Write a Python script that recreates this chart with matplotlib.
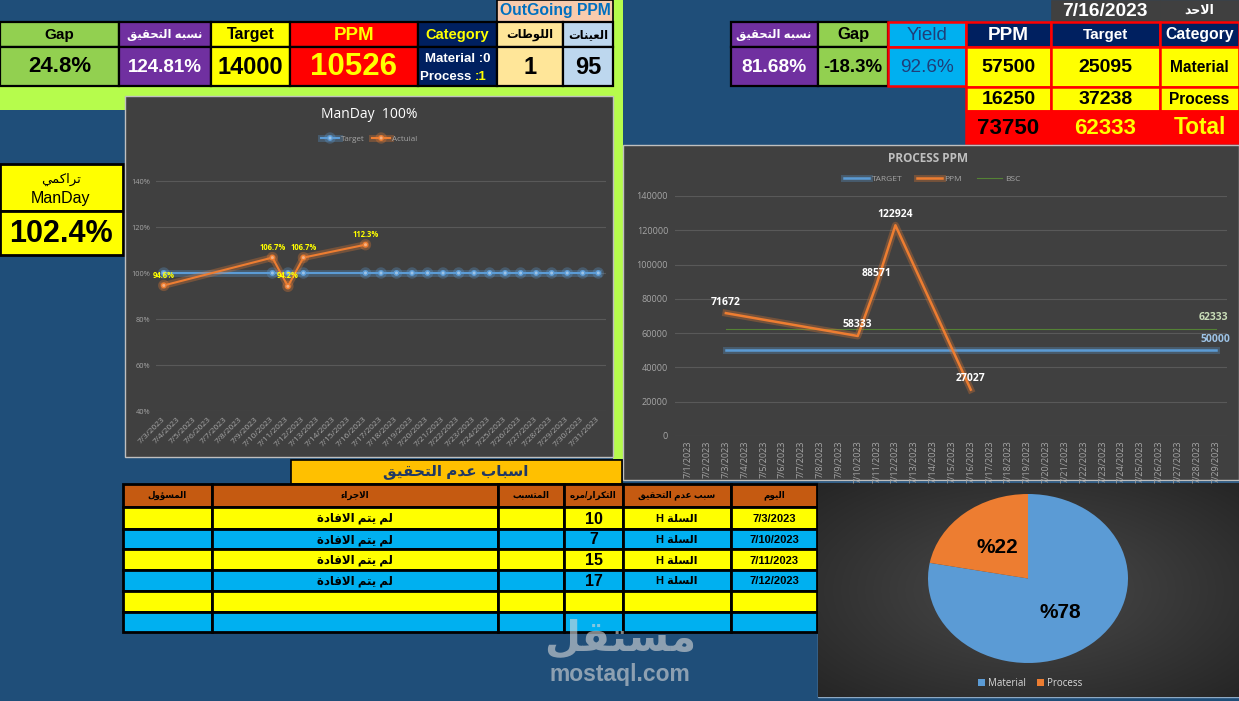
import numpy as np
import matplotlib
matplotlib.use('Agg')
import matplotlib.pyplot as plt
import matplotlib.patheffects as pe
from matplotlib.patches import Rectangle
from matplotlib.colors import LinearSegmentedColormap

W, H = 1239, 701

# ---------------- data ----------------
# ManDay chart (7/3 .. 7/31)
manday_dates = ['7/3/2023', '7/4/2023', '7/5/2023', '7/6/2023', '7/7/2023', '7/8/2023',
                '7/9/2023', '7/10/2023', '7/11/2023', '7/12/2023', '7/13/2023', '7/14/2023',
                '7/15/2023', '7/16/2023', '7/17/2023', '7/18/2023', '7/19/2023', '7/20/2023',
                '7/21/2023', '7/22/2023', '7/23/2023', '7/24/2023', '7/25/2023', '7/26/2023',
                '7/27/2023', '7/28/2023', '7/29/2023', '7/30/2023', '7/31/2023']
manday_target = [1.0, None, None, None, None, None, None, 1.0, 1.0, 1.0, None, None, None,
                 1.0, 1.0, 1.0, 1.0, 1.0, 1.0, 1.0, 1.0, 1.0, 1.0, 1.0, 1.0, 1.0, 1.0, 1.0, 1.0]
manday_actual = [0.946, None, None, None, None, None, None, 1.067, 0.942, 1.067, None, None, None,
                 1.123, None, None, None, None, None, None, None, None, None, None, None, None,
                 None, None, None]

# Process PPM chart (7/1 .. 7/29)
ppm_dates = ['7/1/2023', '7/2/2023', '7/3/2023', '7/4/2023', '7/5/2023', '7/6/2023', '7/7/2023',
             '7/8/2023', '7/9/2023', '7/10/2023', '7/11/2023', '7/12/2023', '7/13/2023',
             '7/14/2023', '7/15/2023', '7/16/2023', '7/17/2023', '7/18/2023', '7/19/2023',
             '7/20/2023', '7/21/2023', '7/22/2023', '7/23/2023', '7/24/2023', '7/25/2023',
             '7/26/2023', '7/27/2023', '7/28/2023', '7/29/2023']
ppm_values = [None, None, 71672, None, None, None, None, None, None, 58333, 88571, 122924,
              None, None, None, 27027, None, None, None, None, None, None, None, None, None,
              None, None, None, None]
ppm_target = [None, None] + [50000] * 27
ppm_bsc = [None, None] + [62333] * 27

# top left table
out_gap = '24.8%'
out_achieve = '124.81%'
out_target = 14000
out_ppm = 10526
out_lots = 1
out_samples = 95

# top right table
day_date = '7/16/2023'
day_name = 'الاحد'
cat_names = ['Material', 'Process', 'Total']
cat_ppm = [57500, 16250, 73750]
cat_target = [25095, 37238, 62333]
day_yield = '92.6%'
day_gap = '-18.3%'
day_achieve = '81.68%'
manday_cum = '102.4%'

# reasons table
reason_days = ['7/3/2023', '7/10/2023', '7/11/2023', '7/12/2023']
reason_cause = ['السلة', 'السلة', 'السلة', 'السلة']
reason_count = [10, 7, 15, 17]
reason_action = ['لم يتم الافادة'] * 4

pie_labels = ['Material', 'Process']
pie_values = cat_ppm[:2]

# ---------------- arabic shaping (no bidi lib available) ----------------
AR = {'ء': (0xFE80, 1), 'آ': (0xFE81, 2), 'أ': (0xFE83, 2), 'ؤ': (0xFE85, 2), 'إ': (0xFE87, 2),
      'ئ': (0xFE89, 4), 'ا': (0xFE8D, 2), 'ب': (0xFE8F, 4), 'ة': (0xFE93, 2), 'ت': (0xFE95, 4),
      'ث': (0xFE99, 4), 'ج': (0xFE9D, 4), 'ح': (0xFEA1, 4), 'خ': (0xFEA5, 4), 'د': (0xFEA9, 2),
      'ذ': (0xFEAB, 2), 'ر': (0xFEAD, 2), 'ز': (0xFEAF, 2), 'س': (0xFEB1, 4), 'ش': (0xFEB5, 4),
      'ص': (0xFEB9, 4), 'ض': (0xFEBD, 4), 'ط': (0xFEC1, 4), 'ظ': (0xFEC5, 4), 'ع': (0xFEC9, 4),
      'غ': (0xFECD, 4), 'ف': (0xFED1, 4), 'ق': (0xFED5, 4), 'ك': (0xFED9, 4), 'ل': (0xFEDD, 4),
      'م': (0xFEE1, 4), 'ن': (0xFEE5, 4), 'ه': (0xFEE9, 4), 'و': (0xFEED, 2), 'ى': (0xFEEF, 2),
      'ي': (0xFEF1, 4), 'لآ': (0xFEF5, 2), 'لأ': (0xFEF7, 2), 'لإ': (0xFEF9, 2), 'لا': (0xFEFB, 2)}


def ar(s):
    toks = []
    i = 0
    while i < len(s):
        if s[i] == 'ل' and s[i:i + 2] in AR:
            toks.append(s[i:i + 2])
            i += 2
        else:
            toks.append(s[i])
            i += 1
    out = []
    for k, t in enumerate(toks):
        if t not in AR:
            out.append(t)
            continue
        base, n = AR[t]
        prev = toks[k - 1] if k > 0 else None
        nxt = toks[k + 1] if k + 1 < len(toks) else None
        jp = prev in AR and AR[prev][1] == 4
        jn = n == 4 and nxt in AR and AR[nxt][1] > 1
        f = 0
        if n > 1:
            if jp and jn:
                f = 3
            elif jp:
                f = 1
            elif jn:
                f = 2
        out.append(chr(base + f))
    return ''.join(out)[::-1]


FONT = ['Liberation Sans', 'DejaVu Sans']
CFONT = ['Open Sans', 'DejaVu Sans']

fig = plt.figure(figsize=(W / 100, H / 100), dpi=100, facecolor='#1F4E79')
bg = fig.add_axes([0, 0, 1, 1], zorder=-10)
bg.set_xlim(0, W)
bg.set_ylim(H, 0)
bg.axis('off')


def box(x0, y0, x1, y1, fc, ec='black', lw=1.6, z=2):
    bg.add_patch(Rectangle((x0, y0), x1 - x0, y1 - y0, fc=fc, ec=ec, lw=lw, zorder=z))


def put(x, y, s, size, color='black', weight='bold', ha='center', fam=FONT, z=5, **kw):
    bg.text(x, y, s, fontsize=size, color=color, fontweight=weight, ha=ha, va='center',
            family=fam, zorder=z, **kw)


def pax(x0, y0, x1, y1, **kw):
    return fig.add_axes([x0 / W, 1 - y1 / H, (x1 - x0) / W, (y1 - y0) / H], **kw)


LIME = '#B6FC4C'
box(0, 86, 623, 97, LIME, ec='none', lw=0, z=1)
box(0, 86, 125, 110, LIME, ec='none', lw=0, z=1)
box(613, 0, 623, 459, LIME, ec='none', lw=0, z=1)

# ---------------- top left table ----------------
box(497, 0, 613, 22, '#F8CBAD', lw=1.2)
put(555, 11, 'OutGoing PPM', 11.3, color='#0070C0')
tl_cols = [0, 119, 211, 290, 418, 497, 563, 613]
tl_fc = ['#92D050', '#7030A0', '#FFFF00', '#FF0000', '#002060', '#FFE699', '#BDD7EE']
tl_head = ['Gap', ar('نسبه التحقيق'), 'Target', 'PPM', 'Category', ar('اللوطات'), ar('العينات')]
tl_hc = ['black', 'white', 'black', '#FFFF00', '#FFFF00', 'black', 'black']
tl_hs = [11, 8.3, 11.5, 13.5, 10.5, 8.3, 8.3]
tl_vals = [out_gap, out_achieve, str(out_target), str(out_ppm), None, str(out_lots), str(out_samples)]
tl_vc = ['black', 'white', 'black', '#FFFF00', 'white', 'black', 'black']
tl_vs = [16, 13.5, 17, 22.5, 9, 17, 17]
for i in range(7):
    x0, x1 = tl_cols[i], tl_cols[i + 1]
    box(x0, 22, x1, 47, tl_fc[i])
    box(x0, 47, x1, 86, tl_fc[i])
    put((x0 + x1) / 2, 35, tl_head[i], tl_hs[i], color=tl_hc[i])
    if tl_vals[i] is not None:
        put((x0 + x1) / 2, 67, tl_vals[i], tl_vs[i], color=tl_vc[i])
put(458, 59, 'Material :0', 9.5, color='white')
put(475, 77, 'Process ', 9.5, color='white', ha='right')
put(475, 77, ':1', 9.5, color='#FFFF00', ha='left')

# ---------------- top right table ----------------
box(1051, 0, 1160, 21, '#404040', ec='#404040', lw=0.5)
box(1160, 0, 1239, 21, '#404040', ec='#404040', lw=0.5)
put(1105, 11, day_date, 13.8, color='white')
put(1199, 11, ar(day_name), 9, color='white')

box(731, 22, 818, 47, '#7030A0')
box(731, 47, 818, 86, '#7030A0')
put(774, 35, ar('نسبه التحقيق'), 8.3, color='white')
put(774, 67, day_achieve, 13.8, color='white')
box(818, 22, 888, 47, '#92D050')
box(818, 47, 888, 86, '#92D050')
put(853, 35, 'Gap', 12)
put(853, 67, day_gap, 13.4)

RED = '#FF0000'
box(888, 22, 966, 47, '#00B0F0', ec=RED, lw=1.8)
box(888, 47, 966, 86, '#00B0F0', ec=RED, lw=1.8)
put(927, 35, 'Yield', 13.6, color='#1F3F7A', weight='normal')
put(927, 68, day_yield, 13.6, color='#1F3F7A', weight='normal')

tr_cols = [(966, 1051), (1051, 1160), (1160, 1239)]
tr_head = ['PPM', 'Target', 'Category']
tr_hs = [13.6, 11, 11.3]
for (x0, x1), t, s in zip(tr_cols, tr_head, tr_hs):
    box(x0, 22, x1, 47, '#002060', ec=RED, lw=1.8)
    put((x0 + x1) / 2, 35, t, s, color='white')
rows_y = [(47, 87), (87, 111), (111, 143)]
for r, (y0, y1) in enumerate(rows_y):
    total = r == 2
    fc = RED if total else '#FFFF00'
    cols_txt = [str(cat_ppm[r]), str(cat_target[r]), cat_names[r]]
    cols_col = ['black', '#FFFF00', '#FFFF00'] if total else ['black', 'black', 'black']
    cols_sz = [16, 16, 16.3] if total else [14, 14, 11.2]
    for c, (x0, x1) in enumerate(tr_cols):
        box(x0, y0, x1, y1, fc, ec=RED, lw=1.8)
        put((x0 + x1) / 2, (y0 + y1) / 2 + 1, cols_txt[c], cols_sz[c], color=cols_col[c])

# ---------------- cumulative ManDay box ----------------
box(0, 164, 123, 211, '#FFFF00', lw=2)
box(0, 211, 123, 255, '#FFFF00', lw=2)
put(61, 179, ar('تراكمي'), 9.5, weight='normal')
put(61, 199, 'ManDay', 11.5, weight='normal')
put(61, 234, manday_cum, 22)

# ---------------- ManDay chart ----------------
box(125, 96, 613, 457, '#404040', ec='#BFBFBF', lw=1)
put(369, 114, 'ManDay  100%', 10, color='white', weight='normal', fam=CFONT)
ax1 = pax(156, 158, 606, 411)
ax1.set_facecolor('none')
x1 = np.arange(len(manday_dates))
tx = [i for i, v in enumerate(manday_target) if v is not None]
ty = [manday_target[i] for i in tx]
ax_ = [i for i, v in enumerate(manday_actual) if v is not None]
ay = [manday_actual[i] for i in ax_]
glow_b = [pe.Stroke(linewidth=5, foreground='#5B9BD5', alpha=0.3), pe.Normal()]
glow_o = [pe.Stroke(linewidth=5, foreground='#ED7D31', alpha=0.3), pe.Normal()]
ax1.plot(tx, ty, color='#5B9BD5', lw=1.5, marker='o', ms=3.2, mfc='#9DC3E6', mec='#5B9BD5',
         label='Target', path_effects=glow_b, zorder=3)
ax1.plot(ax_, ay, color='#ED7D31', lw=1.5, marker='o', ms=3.2, mfc='#F4B183', mec='#ED7D31',
         label='Actuial', path_effects=glow_o, zorder=4)
for i, v in zip(ax_, ay):
    ax1.annotate(f'{v * 100:.1f}%', (i, v), xytext=(0, 7.5), textcoords='offset points',
                 ha='center', va='center', fontsize=5.5, color='#FFFF00', fontweight='bold',
                 family=CFONT, zorder=6)
ax1.set_xlim(-0.5, len(manday_dates) - 0.5)
ax1.set_ylim(0.4, 1.5)
ax1.set_yticks([0.4, 0.6, 0.8, 1.0, 1.2, 1.4])
ax1.set_yticklabels(['40%', '60%', '80%', '100%', '120%', '140%'], family=CFONT)
ax1.set_xticks(x1)
ax1.set_xticklabels(manday_dates, rotation=45, ha='right', va='center', rotation_mode='anchor',
                    family=CFONT)
ax1.tick_params(colors='#A6A6A6', labelsize=5.3, length=0)
ax1.tick_params(axis='x', labelsize=6, pad=5)
ax1.tick_params(axis='y', pad=4)
ax1.grid(axis='y', color='#595959', lw=0.8)
ax1.set_axisbelow(True)
for s in ax1.spines.values():
    s.set_visible(False)
ax1.legend(loc='center', bbox_to_anchor=(369 / W, 1 - 139 / H), bbox_transform=fig.transFigure,
           ncol=2, frameon=False, labelcolor='#A6A6A6', handlelength=2.2,
           columnspacing=1.0, handletextpad=0.2, prop={'family': CFONT, 'size': 5.8})

# ---------------- Process PPM chart ----------------
box(623, 145, 1239, 480, '#404040', ec='#BFBFBF', lw=1)
put(928, 158, 'PROCESS PPM', 8.5, color='#BFBFBF', fam=CFONT)
ax2 = pax(675, 196, 1227, 436)
ax2.set_facecolor('none')
x2 = np.arange(len(ppm_dates))
gx = [i for i, v in enumerate(ppm_target) if v is not None]
ax2.plot(gx, [ppm_target[i] for i in gx], color='#5B9BD5', lw=1.8, label='TARGET',
         path_effects=[pe.Stroke(linewidth=5, foreground='#5B9BD5', alpha=0.3), pe.Normal()], zorder=3)
px = [i for i, v in enumerate(ppm_values) if v is not None]
py = [ppm_values[i] for i in px]
ax2.plot(px, py, color='#ED7D31', lw=1.8, label='PPM',
         path_effects=[pe.Stroke(linewidth=5, foreground='#ED7D31', alpha=0.3), pe.Normal()], zorder=4)
bx = [i for i, v in enumerate(ppm_bsc) if v is not None]
ax2.plot(bx, [ppm_bsc[i] for i in bx], color='#548235', lw=0.8, label='BSC', zorder=2)
for i, v in zip(px, py):
    ax2.annotate(str(v), (i, v), xytext=(0, 8), textcoords='offset points', ha='center',
                 va='center', fontsize=7.5, color='white', fontweight='bold', family=CFONT, zorder=6)
ax2.annotate(str(ppm_target[-1]), (gx[-1], ppm_target[-1]), xytext=(0, 8), textcoords='offset points',
             ha='center', va='center', fontsize=7.5, color='#9DC3E6', fontweight='bold', family=CFONT)
ax2.annotate(str(ppm_bsc[-1]), (bx[-1], ppm_bsc[-1]), xytext=(-2, 8.5), textcoords='offset points',
             ha='center', va='center', fontsize=7.5, color='#C9DDB8', fontweight='bold', family=CFONT)
ax2.set_xlim(-0.7, 28.6)
ax2.set_ylim(0, 140000)
ax2.set_yticks(np.arange(0, 140001, 20000))
ax2.set_yticklabels([str(v) for v in np.arange(0, 140001, 20000)], family=CFONT)
ax2.set_xticks(x2)
ax2.set_xticklabels(ppm_dates, rotation=90, ha='center', va='top', family=CFONT)
ax2.tick_params(colors='#A6A6A6', labelsize=6.5, length=0)
ax2.tick_params(axis='x', labelsize=6.5, pad=3)
ax2.tick_params(axis='y', pad=5)
ax2.grid(axis='y', color='#595959', lw=0.8)
ax2.set_axisbelow(True)
for s in ax2.spines.values():
    s.set_visible(False)
ax2.legend(loc='center', bbox_to_anchor=(932 / W, 1 - 179 / H), bbox_transform=fig.transFigure,
           ncol=3, frameon=False, labelcolor='#A6A6A6', handlelength=3.0, columnspacing=1.8,
           handletextpad=0.3, prop={'family': CFONT, 'size': 6})

# ---------------- reasons table ----------------
box(291, 460, 622, 484, '#FFC000', lw=1.2)
put(456, 472, ar('اسباب عدم التحقيق'), 11, color='#203864')
rc = [123, 212, 498, 564, 623, 731, 817]
rheads = [ar('المسؤول'), ar('الاجراء'), ar('المتسبب'), ar('التكرار/مره'), ar('سبب عدم التحقيق'), ar('اليوم')]
for c in range(6):
    box(rc[c], 484, rc[c + 1], 507, '#C55A11', lw=2)
    put((rc[c] + rc[c + 1]) / 2, 495, rheads[c], 6.3)
ry = [507, 529, 549, 570, 591, 612, 632]
for r in range(6):
    fc = '#FFFF00' if r % 2 == 0 else '#00B0F0'
    for c in range(6):
        box(rc[c], ry[r], rc[c + 1], ry[r + 1], fc, lw=2)
    if r < len(reason_days):
        yc = (ry[r] + ry[r + 1]) / 2 + 1
        put(774, yc, reason_days[r], 8)
        put(677, yc, 'H ' + ar(reason_cause[r]), 8)
        put(593.5, yc, str(reason_count[r]), 11.5)
        put(355, yc, ar(reason_action[r]), 8.5)

# watermark
put(620, 639, ar('مستقل'), 30, color='#D8D8D8', z=20, alpha=0.6)
put(620, 674, 'mostaql.com', 16.5, color='#D8D8D8', z=20, alpha=0.6)

# ---------------- pie ----------------
axg = pax(818, 483, 1239, 697, zorder=-5)
yy, xx = np.mgrid[-1:1:220j, -1:1:420j]
rr = np.sqrt(xx ** 2 + yy ** 2)
cm = LinearSegmentedColormap.from_list('g', ['#4A4A4A', '#262626'])
axg.imshow(rr, cmap=cm, aspect='auto', extent=[0, 1, 0, 1], vmin=0, vmax=1.4)
axg.axis('off')
box(818, 483, 1239, 697, 'none', ec='#8DA9C4', lw=1, z=1)

ax3 = pax(928, 494, 1128, 663)
wedges, _ = ax3.pie(pie_values, colors=['#5B9BD5', '#ED7D31'], startangle=90, counterclock=False,
                    wedgeprops=dict(lw=0))
ax3.set_aspect('auto')
ax3.set_xlim(-1, 1)
ax3.set_ylim(-1, 1)
tot = sum(pie_values)
ax3.text(0.32, -0.4, '%' + f'{pie_values[0] / tot * 100:.0f}', fontsize=15, fontweight='bold',
         ha='center', va='center', family=FONT)
ax3.text(-0.31, 0.37, '%' + f'{pie_values[1] / tot * 100:.0f}', fontsize=15, fontweight='bold',
         ha='center', va='center', family=FONT)
ax3.legend(wedges, pie_labels, loc='center', bbox_to_anchor=(1030 / W, 1 - 683 / H),
           bbox_transform=fig.transFigure, ncol=2, frameon=False, labelcolor='#D9D9D9',
           handlelength=0.7, handleheight=0.7, handletextpad=0.3, columnspacing=1.2,
           prop={'family': CFONT, 'size': 7})

fig.savefig('out.png', dpi=100, facecolor=fig.get_facecolor())
